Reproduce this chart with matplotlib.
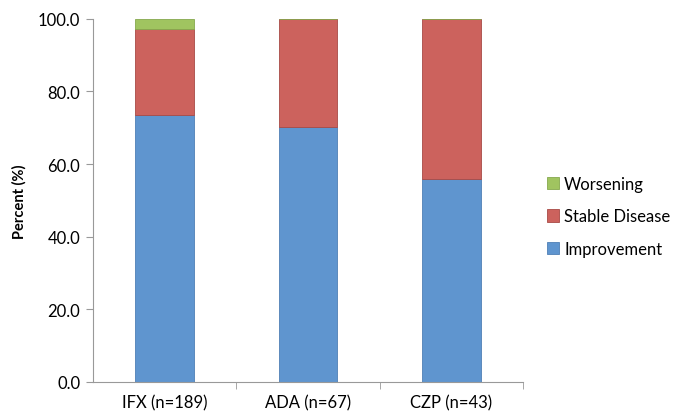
import matplotlib.pyplot as plt
import numpy as np

groups = ['IFX (n=189)', 'ADA (n=67)', 'CZP (n=43)']
improvement = [73.5, 70.1, 55.8]
stable = [23.8, 29.9, 44.2]
worsening = [2.7, 0.0, 0.0]

plt.rcParams['font.family'] = ['Lato', 'DejaVu Sans']

fig = plt.figure(figsize=(6.73, 4.14), dpi=100)
ax = fig.add_axes([0.138, 0.075, 0.639, 0.877])

x = np.arange(len(groups))
w = 0.41
b1 = ax.bar(x, improvement, w, color='#5f95cf', edgecolor='#4f7fb5', linewidth=0.6,
            label='Improvement')
b2 = ax.bar(x, stable, w, bottom=improvement, color='#cc625d', edgecolor='#a84a46',
            linewidth=0.6, label='Stable Disease')
b3 = ax.bar(x, worsening, w, bottom=np.add(improvement, stable), color='#a0c460',
            edgecolor='#86a84d', linewidth=0.6, label='Worsening')

ax.set_xlim(-0.5, 2.5)
ax.set_ylim(0, 100)
ax.set_yticks(np.arange(0, 101, 20))
ax.set_yticklabels([f'{v:.1f}' for v in np.arange(0, 101, 20)])
ax.set_xticks(x)
ax.set_xticklabels(groups)
ax.set_xticks([0.5, 1.5, 2.5], minor=True)
ax.tick_params(axis='x', which='major', length=0, pad=9, labelsize=12)
ax.tick_params(axis='x', which='minor', length=5, color='#999999')
ax.tick_params(axis='y', length=5, color='#999999', labelsize=12, pad=4)

for s in ['top', 'right']:
    ax.spines[s].set_visible(False)
for s in ['left', 'bottom']:
    ax.spines[s].set_color('#999999')
    ax.spines[s].set_linewidth(0.8)

ax.set_ylabel('Percent (%)', fontsize=10.5, fontweight='bold', labelpad=8)

handles = [b3, b2, b1]
fig.legend(handles, [h.get_label() for h in handles], loc='center left',
           bbox_to_anchor=(0.79, 0.475), frameon=False, fontsize=12,
           handlelength=0.75, handleheight=0.75, handletextpad=0.3, labelspacing=1.0)

fig.savefig('out.png', dpi=100)
